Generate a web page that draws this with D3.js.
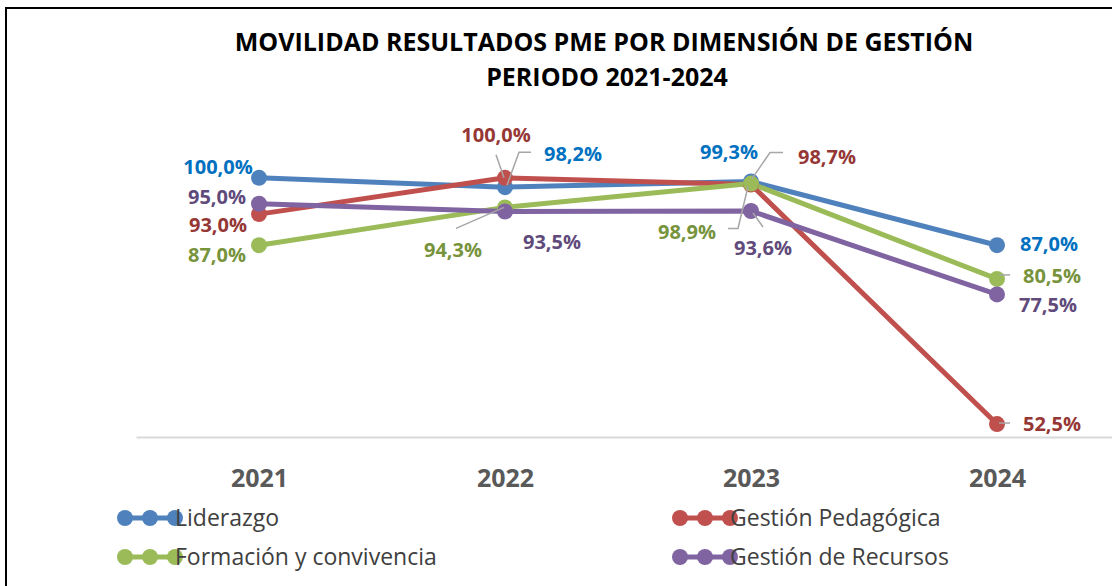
<!DOCTYPE html>
<html>
<head>
<meta charset="utf-8">
<script src="https://cdn.jsdelivr.net/npm/d3@7"></script>
<style>
  body { margin: 0; background: #fff; }
  svg { display: block; font-family: "Open Sans", "Liberation Sans", sans-serif; }
</style>
</head>
<body>
<div id="chart"></div>
<script>
var years = ["2021", "2022", "2023", "2024"];
var seriesNames = ["Liderazgo", "Gestión Pedagógica", "Formación y convivencia", "Gestión de Recursos"];
var liderazgo = [100.0, 98.2, 99.3, 87.0];
var pedagogica = [93.0, 100.0, 98.7, 52.5];
var formacion = [87.0, 94.3, 98.9, 80.5];
var recursos = [95.0, 93.5, 93.6, 77.5];
var yDomain = [50, 110];

var width = 1112, height = 586;

var series = [
  { name: seriesNames[0], values: liderazgo, color: "#4f81bd", label: "#0070c0" },
  { name: seriesNames[1], values: pedagogica, color: "#c0504d", label: "#953735" },
  { name: seriesNames[2], values: formacion, color: "#9bbb59", label: "#77933c" },
  { name: seriesNames[3], values: recursos, color: "#8064a2", label: "#604a7b" }
];

// label placement per series/year: [dx, dy] of label centre, optional leader path
var labelPos = [
  [ {d: [-41, -11]}, {d: [68, -33], lead: [[26, -35], [14, -35], [2, -2]]}, {d: [-22, -30]}, {d: [52, -1]} ],
  [ {d: [-41, 11]}, {d: [-9, -43], lead: [[-9, -23], [-1, 0]]}, {d: [76, -28], lead: [[32, -32], [19, -32], [1, -6]]}, {d: [55, 0], lead: [[2, -1], [13, -1]]} ],
  [ {d: [-42, 10]}, {d: [-52, 42], lead: [[-49, 21], [-1, 0]]}, {d: [-64, 48], lead: [[-23, 45], [-13, 45], [-3, 3]]}, {d: [55, -3], lead: [[2, -4], [13, -4]]} ],
  [ {d: [-42, -7]}, {d: [47, 30]}, {d: [12, 37], lead: [[12, 16], [2, 2]]}, {d: [51, 10]} ]
];

var svg = d3.select("#chart")
  .append("svg")
  .attr("width", width)
  .attr("height", height);

// frame
svg.append("path")
  .attr("d", "M6," + height + "V8H" + width)
  .attr("fill", "none")
  .attr("stroke", "#000")
  .attr("stroke-width", 2);

svg.append("text")
  .attr("x", 604).attr("y", 51)
  .attr("text-anchor", "middle")
  .attr("font-weight", "bold")
  .attr("font-size", 25)
  .attr("fill", "#000")
  .text("MOVILIDAD RESULTADOS PME POR DIMENSIÓN DE GESTIÓN");

svg.append("text")
  .attr("x", 607).attr("y", 86)
  .attr("text-anchor", "middle")
  .attr("font-weight", "bold")
  .attr("font-size", 25)
  .attr("fill", "#000")
  .text("PERIODO 2021-2024");

var x = d3.scalePoint()
  .domain(years)
  .range([136, 1120])
  .padding(0.5);

var y = d3.scaleLinear()
  .domain(yDomain)
  .range([437, 126]);

// category axis
var xAxis = svg.append("g")
  .attr("transform", "translate(0," + y(yDomain[0]) + ")")
  .call(d3.axisBottom(x).tickSize(0).tickPadding(32));
xAxis.select(".domain")
  .attr("stroke", "#d9d9d9")
  .attr("stroke-width", 2);
xAxis.selectAll("text")
  .attr("font-family", "Open Sans, sans-serif")
  .attr("font-size", 25)
  .attr("font-weight", "bold")
  .attr("fill", "#595959");

var line = d3.line()
  .x(function(d, i) { return x(years[i]); })
  .y(function(d) { return y(d); });

var g = svg.append("g");

series.forEach(function(s) {
  g.append("path")
    .datum(s.values)
    .attr("fill", "none")
    .attr("stroke", s.color)
    .attr("stroke-width", 5)
    .attr("stroke-linejoin", "round")
    .attr("d", line);
});

series.forEach(function(s) {
  g.selectAll(null)
    .data(s.values)
    .enter().append("circle")
    .attr("cx", function(d, i) { return x(years[i]); })
    .attr("cy", function(d) { return y(d); })
    .attr("r", 8)
    .attr("fill", s.color);
});

// leader lines
series.forEach(function(s, si) {
  s.values.forEach(function(v, i) {
    var p = labelPos[si][i];
    if (!p.lead) return;
    var px = x(years[i]), py = y(v);
    g.append("path")
      .attr("d", d3.line()(p.lead.map(function(q) { return [px + q[0], py + q[1]]; })))
      .attr("fill", "none")
      .attr("stroke", "#a6a6a6")
      .attr("stroke-width", 1.5);
  });
});

var fmt = function(v) { return v.toFixed(1).replace(".", ",") + "%"; };

series.forEach(function(s, si) {
  g.selectAll(null)
    .data(s.values)
    .enter().append("text")
    .attr("x", function(d, i) { return x(years[i]) + labelPos[si][i].d[0]; })
    .attr("y", function(d, i) { return y(d) + labelPos[si][i].d[1]; })
    .attr("dy", "0.36em")
    .attr("text-anchor", "middle")
    .attr("font-size", 20)
    .attr("font-weight", "bold")
    .attr("fill", s.label)
    .text(fmt);
});

// legend
var legendX = [117, 672], legendY = [518, 557];
var legend = svg.selectAll(".legend")
  .data(series)
  .enter().append("g")
  .attr("class", "legend")
  .attr("transform", function(d, i) {
    return "translate(" + legendX[i % 2] + "," + legendY[Math.floor(i / 2)] + ")";
  });

legend.append("line")
  .attr("x1", 8).attr("x2", 58)
  .attr("stroke", function(d) { return d.color; })
  .attr("stroke-width", 5);

legend.selectAll("circle")
  .data(function(d) { return [8, 33, 58].map(function(c) { return { c: c, color: d.color }; }); })
  .enter().append("circle")
  .attr("cx", function(d) { return d.c; })
  .attr("r", 8)
  .attr("fill", function(d) { return d.color; });

legend.append("text")
  .attr("x", 58)
  .attr("dy", "0.36em")
  .attr("font-size", 23)
  .attr("fill", "#404040")
  .text(function(d) { return d.name; });
</script>
</body>
</html>
